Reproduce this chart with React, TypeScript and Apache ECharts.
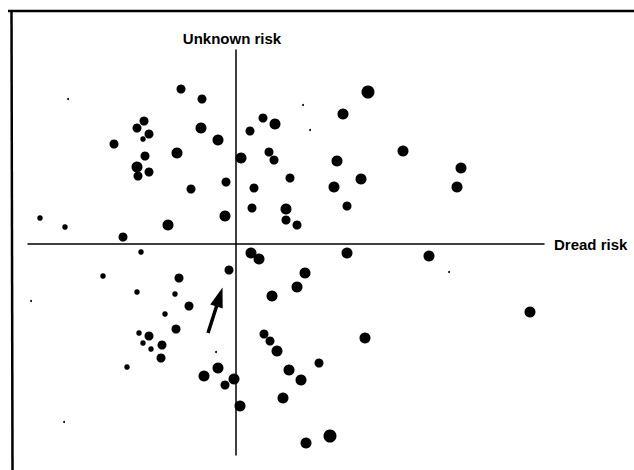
import React, { useEffect, useRef } from "react";
import * as echarts from "echarts";

// Axis ranges (factor scores, arbitrary units)
const dreadRange: [number, number] = [-4.16, 6.16];
const unknownRange: [number, number] = [-4.22, 3.88];

const xAxisLabel = "Dread risk";
const yAxisLabel = "Unknown risk";

// Hazards, grouped by dot size class: [dread, unknown]
const extraLargeDots: [number, number][] = [
  [2.64, 3.04],
  [1.88, -3.84],
];

const largeDots: [number, number][] = [
  [-0.7, 2.32], [-0.36, 2.08], [-1.18, 1.82], [-1.98, 1.54], [-0.22, 0.56],
  [-1.36, 0.38], [2.14, 2.6], [0.78, 2.4], [0.1, 1.72], [2.02, 1.66],
  [3.34, 1.86], [4.5, 1.52], [4.42, 1.14], [2.5, 1.3], [1.96, 1.14],
  [1.0, 0.7], [-0.36, -2.48], [-0.64, -2.64], [-0.04, -2.7], [0.08, -3.24],
  [0.3, -0.18], [0.46, -0.3], [1.38, -0.58], [1.22, -0.86], [0.72, -1.04],
  [0.82, -2.14], [1.06, -2.52], [1.3, -2.72], [0.94, -3.08], [1.4, -3.98],
  [2.22, -0.18], [3.86, -0.24], [5.88, -1.36], [2.58, -1.88],
];

const mediumDots: [number, number][] = [
  [-1.1, 3.1], [-0.68, 2.9], [-1.84, 2.46], [-1.98, 2.32], [-1.74, 2.2],
  [-2.44, 2.0], [-1.82, 1.76], [-1.96, 1.36], [-1.74, 1.44], [-0.9, 1.1],
  [-0.2, 1.24], [-2.26, 0.14], [0.54, 2.52], [0.28, 2.26], [0.66, 1.84],
  [0.76, 1.68], [1.08, 1.32], [0.36, 1.12], [0.32, 0.72], [1.0, 0.48],
  [1.22, 0.38], [2.22, 0.76], [-1.14, -0.68], [-0.14, -0.52], [-0.94, -1.24],
  [-1.2, -1.7], [-1.74, -1.84], [-1.48, -2.02], [-1.5, -2.28], [-0.22, -2.82],
  [0.56, -1.8], [0.68, -1.94], [1.66, -2.38],
];

const smallDots: [number, number][] = [
  [-1.86, 2.1], [-3.92, 0.52], [-3.42, 0.34], [-1.9, -0.16], [-2.66, -0.64],
  [-1.98, -0.96], [-1.22, -1.0], [-1.42, -1.4], [-1.94, -1.78], [-1.86, -1.98],
  [-1.7, -2.1], [-2.18, -2.46],
];

const tinyDots: [number, number][] = [
  [-3.36, 2.9], [1.34, 2.78], [1.48, 2.28], [-4.1, -1.14], [-3.44, -3.56],
  [-0.4, -2.16], [4.26, -0.56],
];

// Arrow annotation: tail -> head
const arrowTail: [number, number] = [-0.56, -1.78];
const arrowHead: [number, number] = [-0.33, -1.06];

const FONT = "'Liberation Sans', Arial, Helvetica, sans-serif";

export default function App() {
  const ref = useRef<HTMLDivElement>(null);

  useEffect(() => {
    if (!ref.current) return;
    const chart = echarts.init(ref.current, undefined, { renderer: "svg" });

    const dotSeries = (name: string, data: [number, number][], size: number) => ({
      name,
      type: "scatter",
      data,
      symbol: "circle",
      symbolSize: size,
      itemStyle: { color: "#000", opacity: 1 },
      emphasis: { disabled: true },
      silent: true,
    });

    chart.setOption({
      animation: false,
      backgroundColor: "#fff",
      grid: { left: 28, right: 90, top: 50, bottom: 15, containLabel: false },
      xAxis: {
        type: "value",
        min: dreadRange[0],
        max: dreadRange[1],
        name: xAxisLabel,
        nameLocation: "end",
        nameGap: 10,
        nameTextStyle: { color: "#000", fontWeight: "bold", fontSize: 15, fontFamily: FONT },
        axisLine: { show: true, onZero: true, lineStyle: { color: "#000", width: 1.5 } },
        axisTick: { show: false },
        axisLabel: { show: false },
        splitLine: { show: false },
      },
      yAxis: {
        type: "value",
        min: unknownRange[0],
        max: unknownRange[1],
        name: yAxisLabel,
        nameLocation: "end",
        nameGap: 4,
        nameTextStyle: { color: "#000", fontWeight: "bold", fontSize: 15, fontFamily: FONT, padding: [0, 8, 0, 0] },
        axisLine: { show: true, onZero: true, lineStyle: { color: "#000", width: 1.5 } },
        axisTick: { show: false },
        axisLabel: { show: false },
        splitLine: { show: false },
      },
      graphic: [
        { type: "line", shape: { x1: 8, y1: 11, x2: 634, y2: 11 }, style: { stroke: "#000", lineWidth: 2.5 } },
        { type: "line", shape: { x1: 11.5, y1: 10, x2: 12.5, y2: 470 }, style: { stroke: "#000", lineWidth: 2.5 } },
      ],
      series: [
        {
          ...dotSeries("extra large", extraLargeDots, 13),
          markLine: {
            silent: true,
            symbol: ["none", "triangle"],
            symbolSize: 12,
            label: { show: false },
            emphasis: { disabled: true },
            itemStyle: { color: "#000" },
            lineStyle: { color: "#000", width: 3.5, type: "solid", opacity: 1 },
            data: [[{ coord: arrowTail }, { coord: arrowHead, symbolSize: [13, 20] }]],
          },
        },
        dotSeries("large", largeDots, 11),
        dotSeries("medium", mediumDots, 9),
        dotSeries("small", smallDots, 5.5),
        dotSeries("tiny", tinyDots, 2),
      ],
    });

    return () => chart.dispose();
  }, []);

  return (
    <div
      ref={ref}
      style={{ position: "fixed", left: 0, top: 0, width: 634, height: 470, background: "#fff" }}
    />
  );
}
